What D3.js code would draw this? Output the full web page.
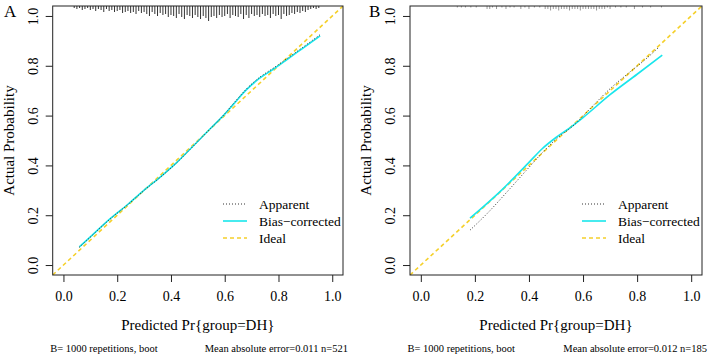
<!DOCTYPE html>
<html><head><meta charset="utf-8">
<script src="https://cdn.jsdelivr.net/npm/d3@7"></script>
<style>body{margin:0;background:#fff}svg{display:block}</style>
</head><body><svg id="c" width="708" height="356"></svg>
<script>
const FONT = "'Liberation Serif', 'Times New Roman', Times, serif";
const ticks = [0, 0.2, 0.4, 0.6, 0.8, 1.0];
const tickLabels = ["0.0", "0.2", "0.4", "0.6", "0.8", "1.0"];
const legendLabels = ["Apparent", "Bias\u2212corrected", "Ideal"];

// Panel A
const apparentA = [[0.059,0.071],[0.10,0.112],[0.173,0.184],[0.24,0.243],[0.297,0.297],[0.36,0.352],[0.421,0.410],[0.48,0.474],[0.545,0.546],[0.60,0.607],[0.632,0.648],[0.681,0.707],[0.730,0.754],[0.78,0.790],[0.829,0.827],[0.89,0.874],[0.955,0.925]];
const biasA = [[0.059,0.073],[0.10,0.113],[0.173,0.185],[0.24,0.244],[0.297,0.298],[0.36,0.353],[0.421,0.411],[0.48,0.475],[0.545,0.546],[0.60,0.606],[0.632,0.645],[0.681,0.704],[0.730,0.750],[0.78,0.786],[0.829,0.823],[0.89,0.870],[0.955,0.920]];
const rugPredA = [0.04,0.05,0.06,0.07,0.08,0.09,0.10,0.11,0.12,0.13,0.14,0.15,0.16,0.17,0.18,0.19,0.20,0.21,0.22,0.23,0.24,0.25,0.26,0.27,0.28,0.29,0.30,0.31,0.32,0.33,0.34,0.35,0.36,0.37,0.38,0.39,0.40,0.41,0.42,0.43,0.44,0.45,0.46,0.47,0.48,0.49,0.50,0.51,0.52,0.53,0.54,0.55,0.56,0.57,0.58,0.59,0.60,0.61,0.62,0.63,0.64,0.65,0.66,0.67,0.68,0.69,0.70,0.71,0.72,0.73,0.74,0.75,0.76,0.77,0.78,0.79,0.80,0.81,0.82,0.83,0.84,0.85,0.86,0.87,0.88,0.89,0.90,0.91,0.92,0.93,0.94,0.95];
const rugCountA = [2,3,2,4,3,2,4,3,5,3,4,6,3,5,4,6,5,4,7,6,5,7,6,8,5,7,6,8,10,6,8,10,7,9,8,11,9,10,12,8,11,13,9,10,12,9,11,13,10,12,15,11,10,12,9,11,10,8,12,9,10,11,8,13,9,12,8,10,9,11,8,10,9,12,8,10,9,13,8,10,9,7,8,6,7,5,6,4,3,2,3,2];

// Panel B
const apparentB = [[0.182,0.140],[0.25,0.212],[0.32,0.295],[0.40,0.392],[0.45,0.452],[0.50,0.505],[0.57,0.565],[0.63,0.632],[0.70,0.708],[0.77,0.772],[0.83,0.825],[0.882,0.876]];
const biasB = [[0.182,0.188],[0.30,0.302],[0.40,0.412],[0.45,0.468],[0.50,0.512],[0.55,0.550],[0.60,0.592],[0.70,0.684],[0.80,0.766],[0.893,0.843]];
const rugPredB = [0.135,0.15,0.165,0.185,0.205,0.245,0.255,0.265,0.28,0.30,0.315,0.33,0.345,0.37,0.385,0.40,0.42,0.44,0.46,0.47,0.48,0.49,0.50,0.51,0.52,0.53,0.54,0.55,0.56,0.57,0.58,0.59,0.60,0.61,0.62,0.63,0.64,0.65,0.66,0.67,0.68,0.69,0.70,0.72,0.74,0.76,0.79,0.82,0.85,0.89];
const rugCountB = [1,1,1,1,1,2,2,1,2,1,2,1,1,2,1,2,1,1,2,2,3,2,2,3,2,2,2,3,2,2,2,3,2,2,2,2,2,3,2,2,2,1,2,1,1,1,2,1,1,1];

const panels = [
  {letter:"A", letterX:4, left:52.7, right:343, apparent:apparentA, bias:biasA, rugPred:rugPredA, rugCount:rugCountA, rugMax:15, rugColor:"#333",
   mae:"Mean absolute error=0.011 n=521", legX:223},
  {letter:"B", letterX:369, left:410, right:702, apparent:apparentB, bias:biasB, rugPred:rugPredB, rugCount:rugCountB, rugMax:4.5, rugColor:"#999",
   mae:"Mean absolute error=0.012 n=185", legX:582}
];

const svg = d3.select("#c").style("font-family", FONT);
const plotTop = 6, plotBottom = 275;

function txt(sel){ return sel.style("font-family", FONT).attr("fill", "#000"); }

panels.forEach((p, i) => {
  const x = d3.scaleLinear().domain([-0.04, 1.04]).range([p.left, p.right]);
  const y = d3.scaleLinear().domain([-0.04, 1.04]).range([plotBottom, plotTop]);
  const g = svg.append("g");
  const cid = "clip" + i;
  g.append("clipPath").attr("id", cid).append("rect")
    .attr("x", p.left).attr("y", plotTop).attr("width", p.right - p.left).attr("height", plotBottom - plotTop);

  const rl = d3.scaleLinear().domain([0, d3.max(p.rugCount)]).range([0, p.rugMax]);
  g.append("g").selectAll("line").data(p.rugPred).join("line")
    .attr("x1", d => x(d)).attr("x2", d => x(d))
    .attr("y1", plotTop).attr("y2", (d, j) => plotTop + rl(p.rugCount[j]))
    .attr("stroke", p.rugColor).attr("stroke-width", 1);

  const line = d3.line().x(d => x(d[0])).y(d => y(d[1])).curve(d3.curveMonotoneX);
  const cg = g.append("g").attr("clip-path", `url(#${cid})`);
  cg.append("path").attr("d", line([[-0.04,-0.04],[1.04,1.04]])).attr("fill","none")
    .attr("stroke","#F5D02A").attr("stroke-width",1.6).attr("stroke-dasharray","4,3");
  cg.append("path").attr("d", line(p.bias)).attr("fill","none")
    .attr("stroke","#19E6EC").attr("stroke-width",1.6);
  cg.append("path").attr("d", line(p.apparent)).attr("fill","none")
    .attr("stroke","#333").attr("stroke-width",1).attr("stroke-dasharray","1,2");

  g.append("rect").attr("x", p.left).attr("y", plotTop).attr("width", p.right - p.left).attr("height", plotBottom - plotTop)
    .attr("fill","none").attr("stroke","#222").attr("stroke-width",1);

  const xa = g.append("g").attr("transform", `translate(0,${plotBottom})`)
    .call(d3.axisBottom(x).tickValues(ticks).tickFormat((d,j)=>tickLabels[j]).tickSize(7).tickPadding(9));
  xa.attr("font-family", null);
  xa.select(".domain").remove();
  txt(xa.selectAll("text")).attr("font-size", 14);
  xa.selectAll("line").attr("stroke","#222");

  const ya = g.append("g").attr("transform", `translate(${p.left},0)`)
    .call(d3.axisLeft(y).tickValues(ticks).tickFormat((d,j)=>tickLabels[j]).tickSize(7).tickPadding(0));
  ya.attr("font-family", null);
  ya.select(".domain").remove();
  ya.selectAll("line").attr("stroke","#222");
  txt(ya.selectAll("text")).attr("font-size", 14)
    .attr("text-anchor","middle").attr("x", null).attr("dy", null)
    .attr("transform", "translate(-15,0) rotate(-90)");

  const cx = (x(0) + x(1)) / 2;
  txt(g.append("text")).attr("x", cx).attr("y", 330).attr("text-anchor","middle").attr("font-size",15)
    .text("Predicted Pr{group=DH}");
  txt(g.append("text")).attr("transform", `translate(${p.left - 39},${(y(0)+y(1))/2}) rotate(-90)`)
    .attr("text-anchor","middle").attr("font-size",15).text("Actual Probability");

  txt(g.append("text")).attr("x", p.letterX).attr("y", 17).attr("font-size", 17).text(p.letter);

  txt(g.append("text")).attr("x", p.left - 2.5).attr("y", 352).attr("font-size", 10.5).text("B= 1000 repetitions, boot");
  txt(g.append("text")).attr("x", p.right + 5).attr("y", 352).attr("text-anchor","end").attr("font-size", 10.5).text(p.mae);

  const legStyles = [
    {stroke:"#333", w:1, dash:"1,2"},
    {stroke:"#19E6EC", w:1.6, dash:null},
    {stroke:"#F5D02A", w:1.6, dash:"4,3"}
  ];
  const rows = [204, 221, 238];
  legendLabels.forEach((lab, j) => {
    g.append("line").attr("x1", p.legX).attr("x2", p.legX + 24).attr("y1", rows[j]).attr("y2", rows[j])
      .attr("stroke", legStyles[j].stroke).attr("stroke-width", legStyles[j].w)
      .attr("stroke-dasharray", legStyles[j].dash);
    txt(g.append("text")).attr("x", p.legX + 36).attr("y", rows[j]).attr("dy","0.35em").attr("font-size",13.5).text(lab);
  });
});
</script>
</body></html>
